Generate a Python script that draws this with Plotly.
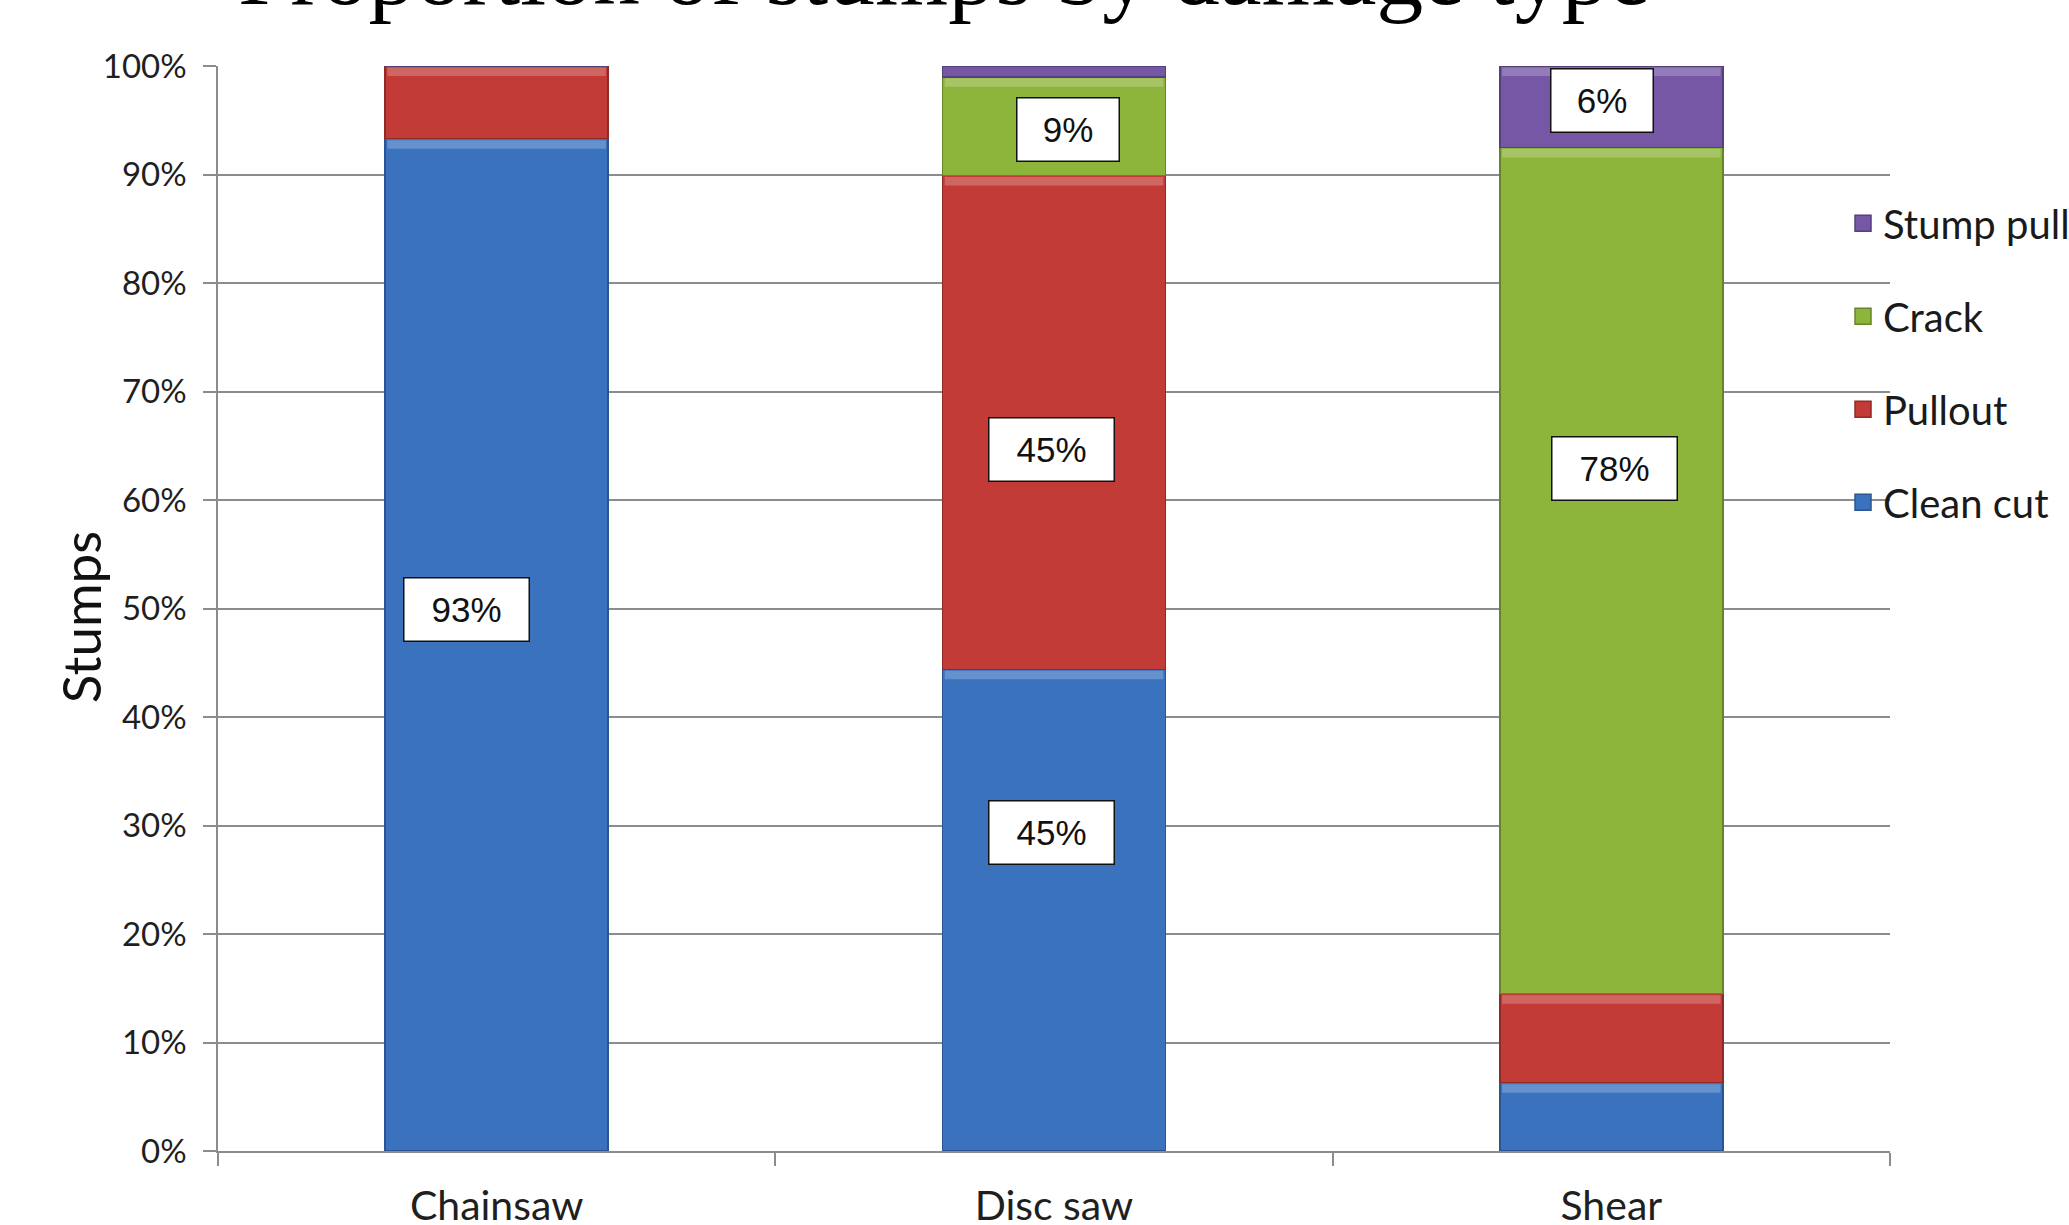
import plotly.graph_objects as go

# ---- data ----
categories = ["Chainsaw", "Disc saw", "Shear"]
series_names = ["Clean cut", "Pullout", "Crack", "Stump pull"]
clean_cut = [93.3, 44.4, 6.3]
pullout = [6.7, 45.5, 8.2]
crack = [0.0, 9.1, 78.0]
stump_pull = [0.0, 1.0, 7.5]
# data labels shown on the chart ("" = no label)
clean_cut_labels = ["93%", "45%", ""]
pullout_labels = ["", "45%", ""]
crack_labels = ["", "9%", "78%"]
stump_pull_labels = ["", "", "6%"]
y_tick_values = [0, 10, 20, 30, 40, 50, 60, 70, 80, 90, 100]
y_tick_labels = ["0%", "10%", "20%", "30%", "40%", "50%", "60%", "70%", "80%", "90%", "100%"]

series_values = [clean_cut, pullout, crack, stump_pull]
series_labels = [clean_cut_labels, pullout_labels, crack_labels, stump_pull_labels]

# ---- styles ----
fill_colors = ["#3A72BE", "#C33B37", "#8DB53C", "#7657A6"]
edge_colors = ["#2B5590", "#8E2A27", "#66852A", "#54407A"]
# manual label nudges (px) mimicking the hand-placed labels of the original
label_shift = {
    (0, 0): (-30, 35), (0, 1): (-3, 78),
    (1, 1): (-3, -27),
    (2, 1): (14, -3), (2, 2): (3, 102),
    (3, 2): (-9, 6),
}
grid_col = "#8C8C8C"
bar_gap = 0.6
bevel_px = 9

fig = go.Figure()
for i, (name, vals) in enumerate(zip(series_names, series_values)):
    fig.add_trace(go.Bar(
        x=categories, y=vals, name=name, showlegend=False,
        marker=dict(color=fill_colors[i], line=dict(color=edge_colors[i], width=1.5)),
        hoverinfo="skip",
    ))
# legend entries (top to bottom: last series first, as in the original)
for i in reversed(range(len(series_names))):
    fig.add_trace(go.Scatter(
        x=[None], y=[None], mode="markers", name=series_names[i],
        legendgroup=series_names[i],
        marker=dict(symbol="square", size=24, color=fill_colors[i],
                    line=dict(color=edge_colors[i], width=1.5)),
        hoverinfo="skip",
    ))

# subtle bevel highlight at the top of each stacked segment (anchored to the data)
shapes = []
half = (1 - bar_gap) / 2
for i, vals in enumerate(series_values):
    for j in range(len(categories)):
        if vals[j] < 3:
            continue
        top = sum(series_values[k][j] for k in range(i + 1))
        shapes.append(dict(
            type="rect", xref="x", yref="y", ysizemode="pixel", yanchor=top,
            x0=j - half + 0.004, x1=j + half - 0.004, y0=-bevel_px - 1, y1=-1.5,
            fillcolor="rgba(255,255,255,0.22)", line=dict(width=0), layer="above",
        ))

annotations = []
for i, (vals, labs) in enumerate(zip(series_values, series_labels)):
    for j, cat in enumerate(categories):
        if not labs[j]:
            continue
        base = sum(series_values[k][j] for k in range(i))
        mid = base + vals[j] / 2
        dx, dy = label_shift.get((i, j), (0, 0))
        annotations.append(dict(
            x=cat, y=mid, xref="x", yref="y", text=labs[j], showarrow=False,
            xshift=dx, yshift=dy,
            font=dict(family="Liberation Sans", size=35, color="#111111"),
            bgcolor="white", bordercolor="#111111", borderwidth=1.5, borderpad=4,
            width=23 * len(labs[j]) + 47, height=54,
        ))

annotations.append(dict(
    text="Proportion of stumps by damage type", xref="paper", yref="paper",
    x=0.434, y=1, xanchor="center", yanchor="bottom", yshift=40, showarrow=False,
    font=dict(family="Liberation Serif", size=94, color="#000000"),
))
annotations.append(dict(
    text="Stumps", xref="paper", yref="paper", x=0, y=0.492,
    xanchor="center", yanchor="middle", xshift=-138, textangle=-90, showarrow=False,
    font=dict(family="Lato", size=53, color="#111111"),
))

fig.update_layout(
    barmode="stack", bargap=bar_gap,
    width=2069, height=1225,
    margin=dict(l=218, r=179, t=66, b=74, autoexpand=False),
    paper_bgcolor="white", plot_bgcolor="white",
    showlegend=True,
    legend=dict(
        x=0.9719, xanchor="left", y=0.885, yanchor="top",
        font=dict(family="Lato", size=40, color="#1a1a1a"),
        bgcolor="rgba(0,0,0,0)", tracegroupgap=38, traceorder="grouped",
    ),
    annotations=annotations,
    shapes=shapes,
)
fig.update_xaxes(
    showline=True, linecolor=grid_col, linewidth=1.5,
    ticks="outside", tickson="boundaries", ticklen=13, tickcolor=grid_col, tickwidth=1.5,
    showgrid=False, tickfont=dict(family="Lato", size=41, color="#1f1f1f"),
    ticklabelstandoff=18,
)
fig.update_yaxes(
    range=[0, 100], tickvals=y_tick_values, ticktext=y_tick_labels,
    showline=True, linecolor=grid_col, linewidth=1.5,
    ticks="outside", ticklen=13, tickcolor=grid_col, tickwidth=1.5,
    showgrid=True, gridcolor=grid_col, gridwidth=1.5, zeroline=False,
    tickfont=dict(family="Lato", size=33, color="#1f1f1f"), ticklabelstandoff=10,
)

fig.write_html("out.html", config={"displayModeBar": False},
               post_script="document.body.style.margin='0';")
